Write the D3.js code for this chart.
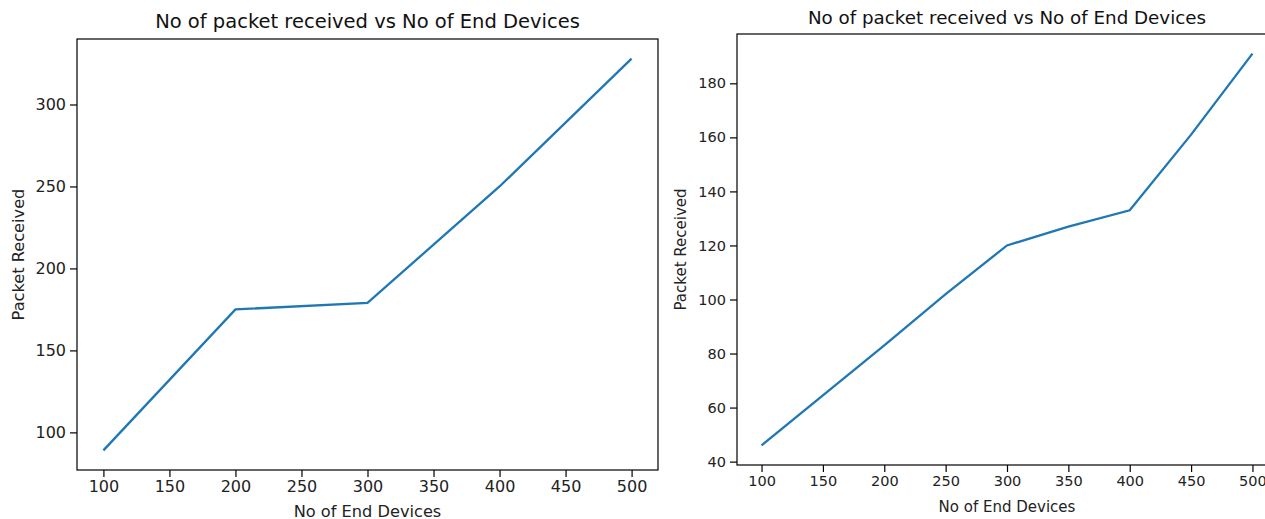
<!DOCTYPE html>
<html>
<head>
<meta charset="UTF-8">
<title>Packet received</title>
<style>
  body { margin: 0; background: #fff; }
  svg { display: block; font-family: "DejaVu Sans", sans-serif; }
  .spine { fill: none; stroke: #000; stroke-width: 1.2px; }
  .tick line { stroke: #000; stroke-width: 1.2px; }
  .tick text { fill: #222; }
  .domain { display: none; }
</style>
</head>
<body>
<svg id="chart" width="1265" height="519"></svg>
<script src="https://cdn.jsdelivr.net/npm/d3@7"></script>
<script>
  "use strict";

  var
    title = "No of packet received vs No of End Devices",
    xLabel = "No of End Devices",
    yLabel = "Packet Received",
    xTicks = [100, 150, 200, 250, 300, 350, 400, 450, 500],
    devices1 = [100, 200, 300, 400, 500],
    received1 = [89, 175, 179, 250, 328],
    yTicks1 = [100, 150, 200, 250, 300],
    devices2 = [100, 200, 250, 300, 350, 400, 450, 500],
    received2 = [46, 83, 102, 120, 127, 133, 161, 191],
    yTicks2 = [40, 60, 80, 100, 120, 140, 160, 180];

  var svg = d3.select("#chart");

  function panel(opt){
    var xs = opt.xs, ys = opt.ys;
    var x = d3.scaleLinear().domain([80, 520]).range([opt.left, opt.right]);
    var lo = d3.min(ys), hi = d3.max(ys), pad = (hi - lo) * 0.05;
    var y = d3.scaleLinear().domain([lo - pad, hi + pad]).range([opt.bottom, opt.top]);
    var g = svg.append("g");

    g.append("g")
      .attr("transform", "translate(0," + opt.bottom + ")")
      .call(d3.axisBottom(x).tickValues(xTicks).tickSize(7).tickPadding(4).tickFormat(d3.format("d")))
      .attr("font-size", opt.tickSize).attr("font-family", null);

    g.append("g")
      .attr("transform", "translate(" + opt.left + ",0)")
      .call(d3.axisLeft(y).tickValues(opt.yTicks).tickSize(7).tickPadding(4).tickFormat(d3.format("d")))
      .attr("font-size", opt.tickSize).attr("font-family", null);

    var line = d3.line()
      .x(function(d, i){ return x(xs[i]); })
      .y(function(d){ return y(d); });

    g.append("path")
      .datum(ys)
      .attr("d", line)
      .attr("fill", "none")
      .attr("stroke", "#1f77b4")
      .attr("stroke-width", 2.3);

    g.append("rect")
      .attr("class", "spine")
      .attr("x", opt.left).attr("y", opt.top)
      .attr("width", opt.right - opt.left)
      .attr("height", opt.bottom - opt.top);

    var cx = (opt.left + opt.right) / 2;
    g.append("text")
      .attr("x", cx).attr("y", opt.titleY)
      .attr("text-anchor", "middle")
      .attr("font-size", opt.titleSize)
      .attr("fill", "#111")
      .text(title);

    g.append("text")
      .attr("x", cx).attr("y", opt.xLabelY)
      .attr("text-anchor", "middle")
      .attr("font-size", opt.labelSize)
      .attr("fill", "#222")
      .text(xLabel);

    g.append("text")
      .attr("transform", "translate(" + opt.yLabelX + "," + ((opt.top + opt.bottom) / 2) + ") rotate(-90)")
      .attr("text-anchor", "middle")
      .attr("dominant-baseline", "central")
      .attr("font-size", opt.labelSize)
      .attr("fill", "#222")
      .text(yLabel);
  }

  panel({
    xs: devices1, ys: received1, yTicks: yTicks1,
    left: 77, right: 658, top: 39, bottom: 470,
    titleY: 28, xLabelY: 517, yLabelX: 18,
    titleSize: 19.5, labelSize: 16.2, tickSize: 16
  });

  panel({
    xs: devices2, ys: received2, yTicks: yTicks2,
    left: 737, right: 1277, top: 34, bottom: 465,
    titleY: 24, xLabelY: 512, yLabelX: 681,
    titleSize: 18.3, labelSize: 15, tickSize: 14.5
  });
</script>
</body>
</html>
